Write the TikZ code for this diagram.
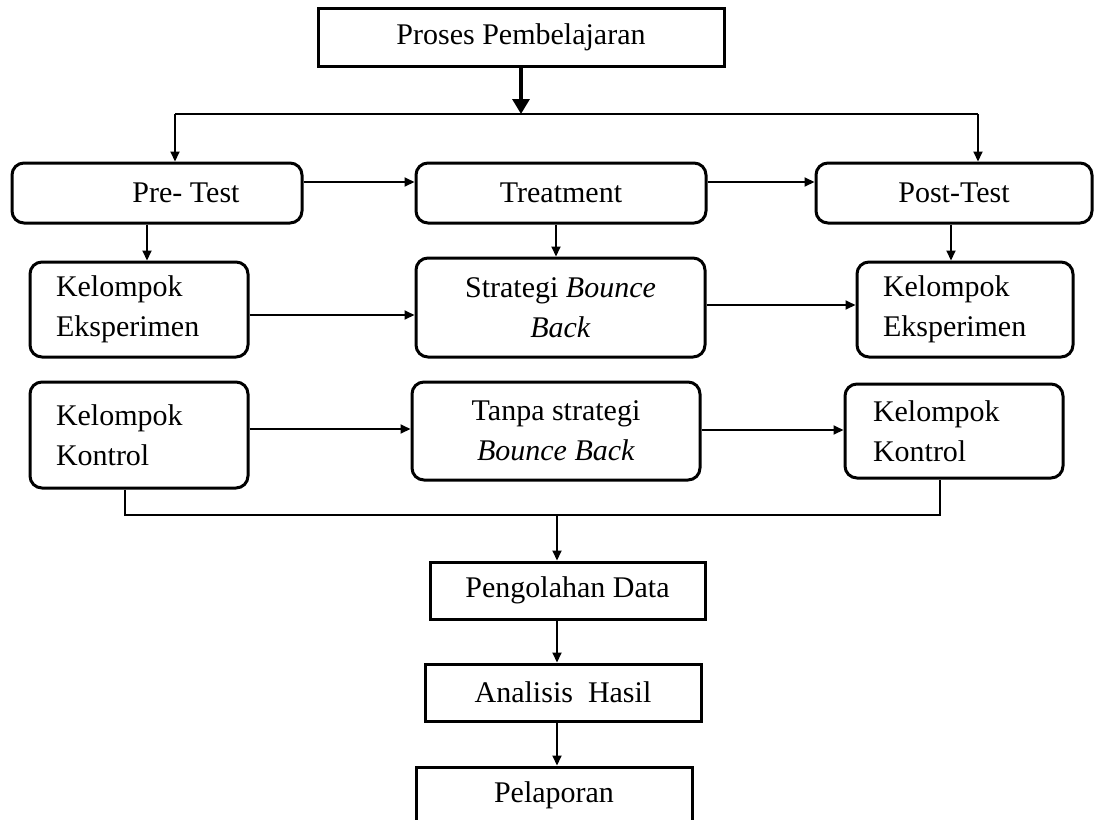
\documentclass[tikz,border=0pt]{standalone}
\usepackage{fontspec}
\setmainfont{Liberation Serif}
\usetikzlibrary{arrows.meta}
\begin{document}
\begin{tikzpicture}[x=0.5pt,y=-0.5pt,
  every node/.style={font=\fontsize{15}{20}\selectfont},
  sqbox/.style={draw, line width=1.5pt, inner sep=0pt},
  rbox/.style={draw, line width=1.5pt, rounded corners=6pt, inner sep=0pt},
  lbox/.style={rbox, align=left, inner xsep=13pt},
  cbox/.style={rbox, align=center},
  conn/.style={line width=1pt},
  arr/.style={line width=1pt, -{Triangle[length=5pt,width=4.5pt]}},
  bigarr/.style={line width=1.6pt, -{Triangle[length=7.5pt,width=8.5pt]}},
  thin line/.style={line width=0.7pt}
]
\useasboundingbox (0,0) rectangle (1105,820);

% boxes
\node[sqbox, minimum width=203pt, minimum height=29pt] (proses) at (521,37) {Proses Pembelajaran};
\node[rbox, minimum width=145pt, minimum height=30pt] (pre) at (157,193) {\hspace*{29pt}Pre- Test};
\node[rbox, minimum width=145pt, minimum height=30pt] (treat) at (561,193) {Treatment};
\node[rbox, minimum width=138pt, minimum height=30pt] (post) at (954,193) {Post-Test};

\node[lbox, text width=83pt, minimum height=47.5pt] (ke1) at (139,309.5) {Kelompok\\Eksperimen};
\node[cbox, minimum width=144.5pt, minimum height=49.5pt] (strat) at (560.5,307.5) {Strategi \textit{Bounce}\\\textit{Back}};
\node[lbox, text width=82pt, minimum height=47.5pt] (ke2) at (965,309.5) {Kelompok\\Eksperimen};

\node[lbox, text width=83pt, minimum height=53pt] (kk1) at (139,435) {Kelompok\\Kontrol};
\node[cbox, minimum width=144pt, minimum height=49pt] (tanpa) at (556,431) {Tanpa strategi\\\textit{Bounce Back}};
\node[lbox, inner xsep=14pt, text width=81pt, minimum height=47pt] (kk2) at (954,431) {Kelompok\\Kontrol};

\node[sqbox, minimum width=137.5pt, minimum height=28.5pt] (olah) at (567.5,590.5) {Pengolahan Data};
\node[sqbox, minimum width=138pt, minimum height=28.5pt] (anal) at (563,692.5) {Analisis\ \ Hasil};
\node[sqbox, minimum width=138pt, minimum height=28pt] (lapor) at (554,795) {Pelaporan};

% top distribution
\coordinate (top) at (521,114);
\coordinate (tl) at (175,114);
\coordinate (tr) at (978,114);
\draw[bigarr] (proses.south) -- (top);
\draw[thin line] (tl) -- (tr);
\draw[arr] (tl) -- (tl |- pre.north);
\draw[arr] (tr) -- (tr |- post.north);

% first row
\draw[arr] ([yshift=5.5pt]pre.east) -- ([yshift=5.5pt]pre.east -| treat.west);
\draw[arr] ([yshift=5.5pt]treat.east) -- ([yshift=5.5pt]treat.east -| post.west);

% down arrows
\draw[arr] ([xshift=-5pt]pre.south) -- ([xshift=-5pt]pre.south |- ke1.north);
\draw[arr] ([xshift=-2.5pt]treat.south) -- ([xshift=-2.5pt]treat.south |- strat.north);
\draw[arr] ([xshift=-1.5pt]post.south) -- ([xshift=-1.5pt]post.south |- ke2.north);

% second row
\draw[arr] ([yshift=-2.75pt]ke1.east) -- ([yshift=-2.75pt]ke1.east -| strat.west);
\draw[arr] ([yshift=1.25pt]strat.east) -- ([yshift=1.25pt]strat.east -| ke2.west);

% third row
\draw[arr] ([yshift=3pt]kk1.east) -- ([yshift=3pt]kk1.east -| tanpa.west);
\draw[arr] ([yshift=0.5pt]tanpa.east) -- ([yshift=0.5pt]tanpa.east -| kk2.west);

% bottom collector
\coordinate (bl) at (125,515);
\coordinate (br) at (940,515);
\coordinate (bm) at (557,515);
\draw[thin line] (kk1.south -| bl) -- (bl) -- (br) -- (kk2.south -| br);
\draw[arr] (bm) -- (bm |- olah.north);
\draw[arr] (olah.south -| bm) -- (anal.north -| bm);
\draw[arr] (anal.south -| bm) -- (lapor.north -| bm);
\end{tikzpicture}
\end{document}
